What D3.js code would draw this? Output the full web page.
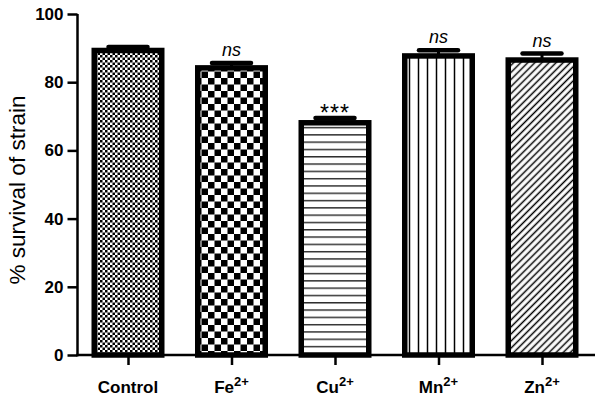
<!DOCTYPE html>
<html>
<head>
<meta charset="utf-8">
<script src="https://cdn.jsdelivr.net/npm/d3@7"></script>
<style>
  body { margin: 0; background: #fff; }
  svg { display: block; font-family: "Liberation Sans", Arial, Helvetica, sans-serif; }
</style>
</head>
<body>
<div id="chart"></div>
<script>
// data
const groups = ["Control", "Fe", "Cu", "Mn", "Zn"];
const survival = [89.3, 84.2, 68.1, 87.7, 86.5];
const sem = [1.0, 1.4, 1.4, 1.7, 1.9];
const marks = ["", "ns", "***", "ns", "ns"];
const yTicks = [0, 20, 40, 60, 80, 100];
const fills = ["fineCheck", "bigCheck", "hLines", "vLines", "diag"];

const width = 597, height = 397;
const svg = d3.select("#chart").append("svg")
    .attr("width", width)
    .attr("height", height);

// hatch patterns
const defs = svg.append("defs");

let p = defs.append("pattern").attr("id", "fineCheck")
    .attr("patternUnits", "userSpaceOnUse").attr("width", 5).attr("height", 5);
p.append("rect").attr("width", 5).attr("height", 5).attr("fill", "#fff");
p.append("rect").attr("width", 2.5).attr("height", 2.5).attr("fill", "#000");
p.append("rect").attr("x", 2.5).attr("y", 2.5).attr("width", 2.5).attr("height", 2.5).attr("fill", "#000");

p = defs.append("pattern").attr("id", "bigCheck")
    .attr("patternUnits", "userSpaceOnUse").attr("width", 13).attr("height", 13);
p.append("rect").attr("width", 13).attr("height", 13).attr("fill", "#fff");
p.append("rect").attr("width", 6.5).attr("height", 6.5).attr("fill", "#000");
p.append("rect").attr("x", 6.5).attr("y", 6.5).attr("width", 6.5).attr("height", 6.5).attr("fill", "#000");

p = defs.append("pattern").attr("id", "hLines")
    .attr("patternUnits", "userSpaceOnUse").attr("width", 10).attr("height", 7.3);
p.append("rect").attr("width", 10).attr("height", 7.3).attr("fill", "#fff");
p.append("line").attr("x1", 0).attr("x2", 10).attr("y1", 3.5).attr("y2", 3.5)
    .attr("stroke", "#000").attr("stroke-width", 1.2);

p = defs.append("pattern").attr("id", "vLines")
    .attr("patternUnits", "userSpaceOnUse").attr("width", 9).attr("height", 10);
p.append("rect").attr("width", 9).attr("height", 10).attr("fill", "#fff");
p.append("line").attr("x1", 4.5).attr("x2", 4.5).attr("y1", 0).attr("y2", 10)
    .attr("stroke", "#000").attr("stroke-width", 1.5);

p = defs.append("pattern").attr("id", "diag")
    .attr("patternUnits", "userSpaceOnUse").attr("width", 5).attr("height", 5)
    .attr("patternTransform", "rotate(45)");
p.append("rect").attr("width", 5).attr("height", 5).attr("fill", "#fff");
p.append("line").attr("x1", 2.5).attr("x2", 2.5).attr("y1", 0).attr("y2", 5)
    .attr("stroke", "#000").attr("stroke-width", 1.5);

// scales
const x = d3.scalePoint()
    .domain(groups)
    .range([76.25, 593.75])
    .padding(0.5);

const y = d3.scaleLinear()
    .domain([0, 100])
    .range([355, 14]);

const barW = 67.5;
const capW = 39;

// bars
svg.selectAll(".bar")
    .data(groups)
    .enter().append("rect")
    .attr("class", "bar")
    .attr("x", d => x(d) - barW / 2)
    .attr("y", (d, i) => y(survival[i]))
    .attr("width", barW)
    .attr("height", (d, i) => y(0) - y(survival[i]))
    .attr("fill", (d, i) => "url(#" + fills[i] + ")")
    .attr("stroke", "#000")
    .attr("stroke-width", 5.5);

// error bars (upper only)
svg.selectAll(".err")
    .data(groups)
    .enter().append("line")
    .attr("class", "err")
    .attr("x1", d => x(d)).attr("x2", d => x(d))
    .attr("y1", (d, i) => y(survival[i]))
    .attr("y2", (d, i) => y(survival[i] + sem[i]))
    .attr("stroke", "#000").attr("stroke-width", 3);

svg.selectAll(".cap")
    .data(groups)
    .enter().append("line")
    .attr("class", "cap")
    .attr("x1", d => x(d) - capW / 2).attr("x2", d => x(d) + capW / 2)
    .attr("y1", (d, i) => y(survival[i] + sem[i]))
    .attr("y2", (d, i) => y(survival[i] + sem[i]))
    .attr("stroke", "#000").attr("stroke-width", 4.5)
    .attr("stroke-linecap", "round");

// significance marks
svg.selectAll(".mark")
    .data(groups)
    .enter().append("text")
    .attr("class", "mark")
    .attr("x", d => x(d))
    .attr("y", (d, i) => y(survival[i] + sem[i]) - (marks[i] === "***" ? -3 : 7))
    .attr("text-anchor", "middle")
    .attr("font-size", (d, i) => marks[i] === "***" ? 23 : 18)
    .attr("letter-spacing", (d, i) => marks[i] === "***" ? 1 : 0)
    .attr("font-style", (d, i) => marks[i] === "ns" ? "italic" : "normal")
    .text((d, i) => marks[i]);

// y axis
const yAxis = svg.append("g")
    .attr("transform", "translate(77.5,0)")
    .call(d3.axisLeft(y).tickValues(yTicks).tickSize(10).tickPadding(4));
yAxis.select(".domain").attr("stroke-width", 2.5).attr("d", "M0," + y(100) + "V" + (y(0) + 1.25));
yAxis.selectAll(".tick line").attr("stroke-width", 2.5);
yAxis.selectAll(".tick text")
    .attr("font-size", 17).attr("font-weight", "bold")
    .attr("font-family", "Liberation Sans, Arial, sans-serif")
    .attr("fill", "#000");

// x axis
const xAxis = svg.append("g")
    .attr("transform", "translate(0," + y(0) + ")")
    .call(d3.axisBottom(x).tickSize(10).tickFormat(""));
xAxis.select(".domain").attr("stroke-width", 2.5).attr("d", "M76.25,0H595");
xAxis.selectAll(".tick line").attr("stroke-width", 2.5);

// x labels with superscript charges
const lab = svg.selectAll(".xlab")
    .data(groups)
    .enter().append("text")
    .attr("class", "xlab")
    .attr("x", d => x(d))
    .attr("y", 393)
    .attr("text-anchor", "middle")
    .attr("font-size", 17)
    .attr("font-weight", "bold");
lab.append("tspan").text(d => d);
lab.filter(d => d !== "Control").append("tspan")
    .attr("font-size", 13)
    .attr("dy", -7)
    .text("2+");

// y title
svg.append("text")
    .attr("transform", "translate(25,190) rotate(-90)")
    .attr("text-anchor", "middle")
    .attr("font-size", 22.5)
    .text("% survival of strain");
</script>
</body>
</html>
